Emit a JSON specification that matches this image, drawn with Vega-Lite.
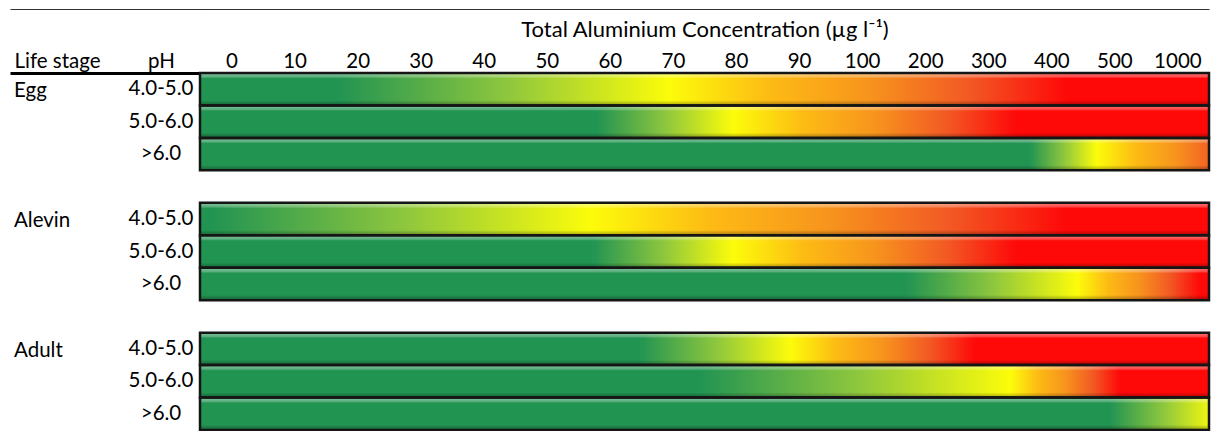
{
  "$schema": "https://vega.github.io/schema/vega-lite/v6.json",
  "padding": {"left": 10, "top": 9, "right": 0, "bottom": 0},
  "background": "white",
  "spacing": 0,
  "bounds": "flush",
  "config": {
    "font": "Lato",
    "view": {"stroke": null},
    "axis": {"labelFont": "Lato", "titleFont": "Lato"}
  },
  "datasets": {
    "bars": [
      {"row": "Egg|4.0-5.0", "stage": "Egg", "ph": "4.0-5.0", "from": -5, "to": 1250},
      {"row": "Egg|5.0-6.0", "stage": "Egg", "ph": "5.0-6.0", "from": -5, "to": 1250},
      {"row": "Egg|>6.0", "stage": "Egg", "ph": ">6.0", "from": -5, "to": 1250},
      {"row": "Alevin|4.0-5.0", "stage": "Alevin", "ph": "4.0-5.0", "from": -5, "to": 1250},
      {"row": "Alevin|5.0-6.0", "stage": "Alevin", "ph": "5.0-6.0", "from": -5, "to": 1250},
      {"row": "Alevin|>6.0", "stage": "Alevin", "ph": ">6.0", "from": -5, "to": 1250},
      {"row": "Adult|4.0-5.0", "stage": "Adult", "ph": "4.0-5.0", "from": -5, "to": 1250},
      {"row": "Adult|5.0-6.0", "stage": "Adult", "ph": "5.0-6.0", "from": -5, "to": 1250},
      {"row": "Adult|>6.0", "stage": "Adult", "ph": ">6.0", "from": -5, "to": 1250}
    ],
    "segments": [
      {"row": "Egg|4.0-5.0", "seg": "green", "from": -5, "to": 17},
      {"row": "Egg|4.0-5.0", "seg": "g2y", "from": 17, "to": 69.5},
      {"row": "Egg|4.0-5.0", "seg": "y2r", "from": 69.5, "to": 425},
      {"row": "Egg|4.0-5.0", "seg": "red", "from": 425, "to": 1250},
      {"row": "Egg|5.0-6.0", "seg": "green", "from": -5, "to": 58},
      {"row": "Egg|5.0-6.0", "seg": "g2y", "from": 58, "to": 79.5},
      {"row": "Egg|5.0-6.0", "seg": "y2r", "from": 79.5, "to": 346},
      {"row": "Egg|5.0-6.0", "seg": "red", "from": 346, "to": 1250},
      {"row": "Egg|>6.0", "seg": "green", "from": -5, "to": 366},
      {"row": "Egg|>6.0", "seg": "g2y", "from": 366, "to": 472},
      {"row": "Egg|>6.0", "seg": "y2r", "from": 472, "to": 1605},
      {"row": "Alevin|4.0-5.0", "seg": "green", "from": -5, "to": -3},
      {"row": "Alevin|4.0-5.0", "seg": "g2y", "from": -3, "to": 57},
      {"row": "Alevin|4.0-5.0", "seg": "y2r", "from": 57, "to": 425},
      {"row": "Alevin|4.0-5.0", "seg": "red", "from": 425, "to": 1250},
      {"row": "Alevin|5.0-6.0", "seg": "green", "from": -5, "to": 57.3},
      {"row": "Alevin|5.0-6.0", "seg": "g2y", "from": 57.3, "to": 79.5},
      {"row": "Alevin|5.0-6.0", "seg": "y2r", "from": 79.5, "to": 346},
      {"row": "Alevin|5.0-6.0", "seg": "red", "from": 346, "to": 1250},
      {"row": "Alevin|>6.0", "seg": "green", "from": -5, "to": 171},
      {"row": "Alevin|>6.0", "seg": "g2y", "from": 171, "to": 441},
      {"row": "Alevin|>6.0", "seg": "y2r", "from": 441, "to": 1180},
      {"row": "Alevin|>6.0", "seg": "red", "from": 1180, "to": 1250},
      {"row": "Adult|4.0-5.0", "seg": "green", "from": -5, "to": 64.8},
      {"row": "Adult|4.0-5.0", "seg": "g2y", "from": 64.8, "to": 88.6},
      {"row": "Adult|4.0-5.0", "seg": "y2r", "from": 88.6, "to": 280},
      {"row": "Adult|4.0-5.0", "seg": "red", "from": 280, "to": 1250},
      {"row": "Adult|5.0-6.0", "seg": "green", "from": -5, "to": 74.3},
      {"row": "Adult|5.0-6.0", "seg": "g2y", "from": 74.3, "to": 335},
      {"row": "Adult|5.0-6.0", "seg": "y2r", "from": 335, "to": 545},
      {"row": "Adult|5.0-6.0", "seg": "red", "from": 545, "to": 1250},
      {"row": "Adult|>6.0", "seg": "green", "from": -5, "to": 493},
      {"row": "Adult|>6.0", "seg": "g2y", "from": 493, "to": 1300}
    ]
  },
  "hconcat": [
    {
      "width": 190,
      "height": 357,
      "data": {"name": "bars"},
      "layer": [
        {
          "mark": {"type": "text", "align": "center", "baseline": "middle", "fontSize": 20.5, "font": "Lato", "color": "black", "dx": -45},
          "encoding": {
            "x": {"datum": "pH", "type": "nominal",
              "scale": {"type": "point", "domain": ["Life stage", "pH"], "range": [0, 196], "padding": 0},
              "axis": {"orient": "top", "ticks": false, "grid": false, "domain": true, "domainColor": "black", "domainWidth": 3,
                "labelFontSize": 20.5, "labelColor": "black", "labelPadding": 2, "labelAngle": 0,
                "labelAlign": {"condition": {"test": "datum.value == 'Life stage'", "value": "left"}, "value": "center"},
                "labelOffset": {"condition": {"test": "datum.value == 'Life stage'", "value": 4}, "value": -45},
                "title": null}},
            "y": {"field": "row", "type": "nominal",
              "scale": {"type": "band", "domain": ["Egg|4.0-5.0", "Egg|5.0-6.0", "Egg|>6.0", "gap1", "Alevin|4.0-5.0", "Alevin|5.0-6.0", "Alevin|>6.0", "gap2", "Adult|4.0-5.0", "Adult|5.0-6.0", "Adult|>6.0"], "paddingInner": 0, "paddingOuter": 0},
              "axis": null},
            "text": {"field": "ph"}
          }
        },
        {
          "transform": [{"filter": "datum.ph == '4.0-5.0'"}],
          "mark": {"type": "text", "align": "left", "baseline": "middle", "fontSize": 20.5, "font": "Lato", "color": "black", "dx": 4, "dy": 2},
          "encoding": {
            "x": {"datum": "Life stage", "type": "nominal",
              "scale": {"type": "point", "domain": ["Life stage", "pH"], "range": [0, 196], "padding": 0},
              "axis": {"orient": "top", "offset": 64, "labels": false, "ticks": false, "grid": false, "domain": true, "domainColor": "#333333", "domainWidth": 1, "title": null}},
            "y": {"field": "row", "type": "nominal",
              "scale": {"type": "band", "domain": ["Egg|4.0-5.0", "Egg|5.0-6.0", "Egg|>6.0", "gap1", "Alevin|4.0-5.0", "Alevin|5.0-6.0", "Alevin|>6.0", "gap2", "Adult|4.0-5.0", "Adult|5.0-6.0", "Adult|>6.0"], "paddingInner": 0, "paddingOuter": 0},
              "axis": null},
            "text": {"field": "stage"}
          }
        }
      ],
      "resolve": {"axis": {"x": "independent"}}
    },
    {
      "width": 1009,
      "height": 357,
      "encoding": {
        "y": {"field": "row", "type": "nominal",
          "scale": {"type": "band", "domain": ["Egg|4.0-5.0", "Egg|5.0-6.0", "Egg|>6.0", "gap1", "Alevin|4.0-5.0", "Alevin|5.0-6.0", "Alevin|>6.0", "gap2", "Adult|4.0-5.0", "Adult|5.0-6.0", "Adult|>6.0"], "paddingInner": 0, "paddingOuter": 0},
          "axis": null}
      },
      "layer": [
        {
          "data": {"name": "segments"},
          "transform": [{"filter": "datum.seg == 'green'"}],
          "mark": {"type": "rect", "fill": "#229452", "stroke": "#229452", "strokeWidth": 1},
          "encoding": {
            "x": {"field": "from", "type": "quantitative",
              "scale": {"type": "linear", "domain": [-5, 100, 500, 1000, 1250], "range": [0, 662.1, 914.4, 977.4, 1009], "zero": false, "nice": false},
              "axis": {"orient": "top", "values": [0, 10, 20, 30, 40, 50, 60, 70, 80, 90, 100, 200, 300, 400, 500, 1000], "format": "d",
                "ticks": false, "grid": false, "domain": true, "domainColor": "black", "domainWidth": 3,
                "labelFontSize": 20.5, "labelColor": "black", "labelPadding": 2, "labelOverlap": false, "labelFlush": false,
                "title": "Total Aluminium Concentration (µg l⁻¹)", "titleFontSize": 22, "titleFontWeight": "normal", "titleColor": "black", "titlePadding": 10}},
            "x2": {"field": "to"}
          }
        },
        {
          "data": {"name": "segments"},
          "transform": [{"filter": "datum.seg == 'red'"}],
          "mark": {"type": "rect", "fill": "#fe0808", "stroke": "#fe0808", "strokeWidth": 1},
          "encoding": {
            "x": {"field": "from", "type": "quantitative", "axis": null},
            "x2": {"field": "to"}
          }
        },
        {
          "data": {"name": "segments"},
          "transform": [{"filter": "datum.seg == 'g2y'"}],
          "mark": {"type": "rect", "clip": true, "strokeWidth": 1,
            "fill": {"gradient": "linear", "x1": 0, "y1": 0, "x2": 1, "y2": 0,
              "stops": [{"offset": 0, "color": "#229452"}, {"offset": 0.5, "color": "#8cc63e"}, {"offset": 1, "color": "#fcfc0a"}]},
            "stroke": {"gradient": "linear", "x1": 0, "y1": 0, "x2": 1, "y2": 0,
              "stops": [{"offset": 0, "color": "#229452"}, {"offset": 0.5, "color": "#8cc63e"}, {"offset": 1, "color": "#fcfc0a"}]}},
          "encoding": {
            "x": {"field": "from", "type": "quantitative", "axis": null},
            "x2": {"field": "to"}
          }
        },
        {
          "data": {"name": "segments"},
          "transform": [{"filter": "datum.seg == 'y2r'"}],
          "mark": {"type": "rect", "clip": true, "strokeWidth": 1,
            "fill": {"gradient": "linear", "x1": 0, "y1": 0, "x2": 1, "y2": 0,
              "stops": [{"offset": 0, "color": "#fcfc0a"}, {"offset": 0.25, "color": "#fdbb14"}, {"offset": 0.5, "color": "#f7941d"}, {"offset": 0.75, "color": "#f25a24"}, {"offset": 1, "color": "#fe0808"}]},
            "stroke": {"gradient": "linear", "x1": 0, "y1": 0, "x2": 1, "y2": 0,
              "stops": [{"offset": 0, "color": "#fcfc0a"}, {"offset": 0.25, "color": "#fdbb14"}, {"offset": 0.5, "color": "#f7941d"}, {"offset": 0.75, "color": "#f25a24"}, {"offset": 1, "color": "#fe0808"}]}},
          "encoding": {
            "x": {"field": "from", "type": "quantitative", "axis": null},
            "x2": {"field": "to"}
          }
        },
        {
          "data": {"name": "bars"},
          "mark": {"type": "rect",
            "fill": {"gradient": "linear", "x1": 0, "y1": 0, "x2": 0, "y2": 1,
              "stops": [{"offset": 0, "color": "rgba(255,255,255,0.45)"}, {"offset": 0.12, "color": "rgba(255,255,255,0.25)"}, {"offset": 0.17, "color": "rgba(255,255,255,0)"}, {"offset": 0.84, "color": "rgba(0,0,0,0)"}, {"offset": 1, "color": "rgba(0,0,0,0.35)"}]}},
          "encoding": {
            "x": {"field": "from", "type": "quantitative", "axis": null},
            "x2": {"field": "to"}
          }
        },
        {
          "data": {"name": "bars"},
          "mark": {"type": "rect", "fill": "transparent", "stroke": "#151515", "strokeWidth": 2.5},
          "encoding": {
            "x": {"field": "from", "type": "quantitative",
              "axis": {"orient": "top", "offset": 64, "labels": false, "ticks": false, "grid": false, "domain": true, "domainColor": "#333333", "domainWidth": 1, "title": null}},
            "x2": {"field": "to"}
          }
        }
      ],
      "resolve": {"axis": {"x": "independent"}}
    }
  ]
}
